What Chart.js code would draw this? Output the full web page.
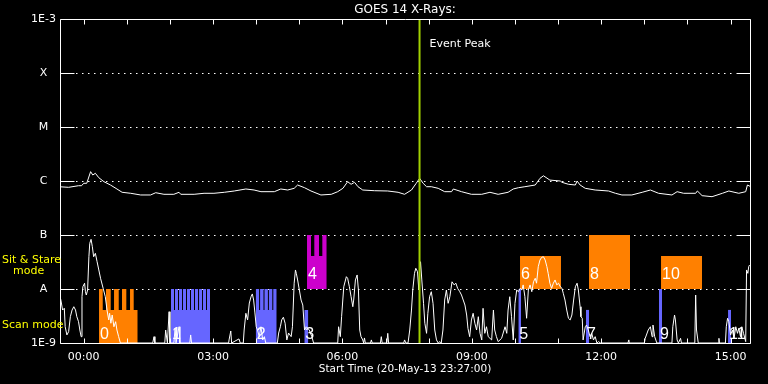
<!DOCTYPE html>
<html>
<head>
<meta charset="utf-8">
<script src="https://cdn.jsdelivr.net/npm/chart.js@4.4.1/dist/chart.umd.min.js"></script>
<style>
html,body{margin:0;padding:0;background:#000;overflow:hidden}
canvas{display:block}
</style>
</head>
<body>
<canvas id="c" width="768" height="384"></canvas>
<script>
// ---------------- DATA ----------------
// Time axis in hours relative to 21-May-13 00:00 (start 20-May-13 23:27)
const startHour = -0.55;
const endHour = 15.45;
const hourTicks = [0,1,2,3,4,5,6,7,8,9,10,11,12,13,14,15];
const hourLabels = [0,3,6,9,12,15];

// Flux axis (W/m^2), GOES class labels
const yTickValues = [1e-9,1e-8,1e-7,1e-6,1e-5,1e-4,1e-3];
const yTickLabels = ['1E-9','A','B','C','M','X','1E-3'];

const eventPeakHour = 7.787;

// GOES 14 long channel (1-8 A)
const longTime = [
-0.58,-0.35,-0.12,-0.05,0.00,0.07,0.16,0.21,0.27,0.35,
0.47,0.62,0.77,0.89,1.09,1.32,1.55,1.67,1.86,2.09,
2.21,2.25,2.56,2.79,3.02,3.26,3.49,3.76,3.95,4.11,
4.42,4.57,4.73,4.88,4.96,5.12,5.27,5.50,5.74,5.89,
6.01,6.12,6.20,6.28,6.36,6.47,6.74,7.05,7.29,7.44,
7.60,7.71,7.79,7.87,7.95,8.06,8.22,8.37,8.53,8.57,
8.76,8.99,9.23,9.42,9.61,9.84,9.96,10.08,10.23,10.47,
10.58,10.66,10.81,11.05,11.09,11.24,11.40,11.44,11.51,11.63,
11.86,12.17,12.33,12.48,12.71,12.95,13.14,13.33,13.64,13.76,
13.91,14.19,14.23,14.34,14.57,14.81,14.96,15.19,15.35,15.39,
15.47];
const longFlux = [
7.84e-7,7.64e-7,8.18e-7,8.18e-7,9.07e-7,9.07e-7,1.49e-6,1.29e-6,1.39e-6,1.15e-6,
9.7e-7,8.43e-7,7.11e-7,6.18e-7,5.92e-7,5.51e-7,5.51e-7,6.07e-7,5.67e-7,5.67e-7,
6.18e-7,5.67e-7,5.67e-7,5.92e-7,5.92e-7,6.18e-7,6.53e-7,7.11e-7,6.81e-7,6.34e-7,
6.34e-7,7.11e-7,6.81e-7,7.32e-7,8.43e-7,7.51e-7,6.53e-7,5.51e-7,5.67e-7,6.34e-7,
7.32e-7,9.7e-7,8.69e-7,9.46e-7,7.84e-7,6.81e-7,6.61e-7,6.53e-7,6.18e-7,5.67e-7,
6.81e-7,9.07e-7,1.12e-6,9.07e-7,7.84e-7,7.84e-7,7.32e-7,6.34e-7,6.34e-7,7.11e-7,
6.34e-7,5.67e-7,5.67e-7,6.18e-7,5.67e-7,6.18e-7,7.11e-7,7.51e-7,7.84e-7,8.43e-7,
1.12e-6,1.25e-6,1.04e-6,1.0e-6,9.46e-7,8.69e-7,8.43e-7,1.0e-6,8.43e-7,7.32e-7,
6.81e-7,6.53e-7,5.92e-7,5.51e-7,5.51e-7,6.18e-7,6.81e-7,5.92e-7,5.51e-7,6.34e-7,
5.92e-7,5.92e-7,6.53e-7,5.35e-7,5.12e-7,5.92e-7,6.53e-7,5.92e-7,6.34e-7,8.43e-7,
7.84e-7];

// GOES 14 short channel (0.5-4 A)
const shortTime = [
-0.58,-0.56,-0.53,-0.49,-0.45,-0.43,-0.39,-0.35,-0.31,-0.27,
-0.23,-0.19,-0.16,-0.12,-0.09,-0.06,-0.04,-0.02,0.02,0.04,
0.06,0.09,0.12,0.14,0.17,0.20,0.23,0.27,0.31,0.35,
0.39,0.45,0.50,0.54,0.58,0.60,0.63,0.66,0.70,0.74,
0.77,0.81,0.85,1.60,1.63,1.65,1.88,1.90,1.94,1.98,
2.00,2.09,2.12,2.14,2.21,2.23,2.46,2.48,2.50,3.36,
3.37,3.41,3.43,3.60,3.63,3.70,3.72,3.76,3.80,3.84,
3.88,3.91,3.94,3.97,4.00,4.03,4.07,4.11,4.15,4.19,
4.22,4.49,4.52,4.56,4.59,4.63,4.67,4.71,4.75,4.81,
4.84,4.88,4.91,4.93,4.96,5.00,5.04,5.08,5.12,5.16,
5.23,5.29,5.33,5.89,5.91,5.95,5.98,6.03,6.09,6.12,
6.16,6.20,6.24,6.26,6.30,6.34,6.37,6.40,6.43,6.47,
6.49,6.51,6.53,6.65,6.67,6.69,6.88,6.90,6.92,7.03,
7.05,7.07,7.42,7.44,7.47,7.52,7.56,7.60,7.63,7.67,
7.70,7.74,7.77,7.79,7.81,7.84,7.88,7.91,7.95,7.98,
8.02,8.06,8.10,8.14,8.18,8.22,8.26,8.29,8.33,8.37,
8.41,8.45,8.49,8.54,8.59,8.63,8.67,8.72,8.76,8.80,
8.84,8.88,8.91,8.95,8.99,9.03,9.07,9.11,9.15,9.19,
9.23,9.26,9.30,9.34,9.38,9.46,9.50,9.53,9.57,9.61,
9.69,9.77,9.81,9.84,9.88,9.92,9.96,10.00,10.04,10.08,
10.12,10.16,10.19,10.23,10.27,10.31,10.35,10.39,10.43,10.47,
10.50,10.54,10.58,10.62,10.66,10.70,10.74,10.77,10.81,10.85,
10.89,10.93,10.97,11.01,11.05,11.09,11.12,11.16,11.20,11.24,
11.28,11.32,11.36,11.40,11.44,11.47,11.51,11.53,11.56,11.58,
11.63,11.66,11.70,11.74,11.78,11.82,11.86,11.90,11.94,11.98,
12.62,12.64,12.65,13.00,13.02,13.09,13.14,13.18,13.20,13.24,
13.29,13.64,13.66,13.70,13.72,13.76,13.79,13.84,13.86,14.17,
14.19,14.21,14.25,14.71,14.73,14.74,14.88,14.90,14.93,14.96,
15.00,15.04,15.08,15.12,15.16,15.19,15.23,15.26,15.30,15.35,
15.37,15.40,15.42,15.44];
const shortFlux = [
8.91e-9,7.74e-9,6.25e-9,4.08e-9,4.4e-9,2.0e-9,1.41e-9,1.62e-9,3.07e-9,4.08e-9,
4.7e-9,4.08e-9,3.07e-9,2.48e-9,1.74e-9,1.31e-9,7.2e-9,1.1e-8,1.28e-8,8.91e-9,
7.74e-9,9.58e-9,3.96e-8,7.02e-8,8.32e-8,6.07e-8,3.96e-8,4.58e-8,3.2e-8,2.25e-8,
1.58e-8,1.03e-8,7.2e-9,4.08e-9,2.67e-9,3.55e-9,2.32e-9,3.3e-9,2.0e-9,2.48e-9,
1.74e-9,1.31e-9,1e-9,1e-9,1.31e-9,1e-9,1e-9,1.74e-9,1e-9,3.8e-9,
1e-9,1e-9,1.9e-9,1e-9,2.0e-9,1e-9,1e-9,1.41e-9,1e-9,1e-9,
1.14e-9,1.67e-9,1e-9,1.19e-9,1e-9,1e-9,1.74e-9,3.55e-9,2.67e-9,5.5e-9,
7.2e-9,8.1e-9,6.25e-9,3.6e-9,2.0e-9,1.74e-9,1.31e-9,2.0e-9,1.14e-9,1.31e-9,
1e-9,1e-9,1.53e-9,2.0e-9,2.67e-9,3.0e-9,2.32e-9,1.14e-9,1.53e-9,1.31e-9,
2.0e-9,1.28e-8,2.25e-8,1.95e-8,1.47e-8,9.58e-9,6.25e-9,5.05e-9,1.74e-9,2.0e-9,
1.74e-9,1.31e-9,1e-9,1e-9,2.0e-9,1.31e-9,3.07e-9,1.1e-8,1.69e-8,1.58e-8,
1.1e-8,7.2e-9,4.7e-9,6.25e-9,1.47e-8,1.82e-8,9.58e-9,1.74e-9,1.31e-9,1.14e-9,
1e-9,1.24e-9,1e-9,1e-9,1.14e-9,1e-9,1e-9,1.31e-9,1e-9,1e-9,
1.51e-9,1e-9,1e-9,1.14e-9,1e-9,1e-9,1.74e-9,4.08e-9,9.58e-9,1.95e-8,
2.42e-8,2.09e-8,9.58e-9,2.25e-8,3.2e-8,1.47e-8,5.43e-9,2.32e-9,1.51e-9,3.55e-9,
7.2e-9,8.91e-9,5.43e-9,1.74e-9,1.14e-9,1e-9,1.06e-9,1e-9,1.74e-9,6.25e-9,
9.58e-9,5.43e-9,7.2e-9,1.36e-8,1.19e-8,1.28e-8,1.03e-8,8.91e-9,7.74e-9,6.25e-9,
5.05e-9,3.3e-9,1.87e-9,1.31e-9,2.67e-9,3.55e-9,2.32e-9,1.74e-9,3.07e-9,1.51e-9,
1.14e-9,4.39e-9,1.51e-9,2.0e-9,1.31e-9,1.14e-9,4.08e-9,1.74e-9,1.31e-9,1.06e-9,
1.22e-9,2.0e-9,1.51e-9,4.08e-9,7.2e-9,3.07e-9,1.14e-9,5.43e-9,9.58e-9,8.91e-9,
1.03e-8,9.58e-9,1.19e-8,7.2e-9,2.87e-9,9.58e-9,1.19e-8,8.91e-9,1.36e-8,1.58e-8,
1.28e-8,2.59e-8,3.44e-8,3.86e-8,3.96e-8,3.44e-8,2.59e-8,1.95e-8,1.28e-8,1.03e-8,
1.28e-8,1.47e-8,1.19e-8,1.28e-8,1.1e-8,1.03e-8,8.32e-9,6.25e-9,4.08e-9,2.87e-9,
2.67e-9,3.3e-9,6.25e-9,1.1e-8,1.28e-8,9.58e-9,4.7e-9,3.07e-9,2.87e-9,1.14e-9,
2.0e-9,2.15e-9,1.74e-9,1.31e-9,1.51e-9,1.14e-9,1.31e-9,1e-9,1.06e-9,1e-9,
1e-9,1.14e-9,1e-9,1e-9,1.22e-9,1.74e-9,2.0e-9,1.31e-9,2.15e-9,1.31e-9,
1e-9,1e-9,2.0e-9,3.3e-9,2.67e-9,1.14e-9,1e-9,1.22e-9,1e-9,1e-9,
7.74e-9,1.74e-9,1e-9,1e-9,1.22e-9,1e-9,1e-9,2.0e-9,2.87e-9,2.48e-9,
1.41e-9,1.74e-9,1.22e-9,2.0e-9,1.51e-9,1.87e-9,1.31e-9,2.0e-9,1.51e-9,1.06e-9,
2.25e-8,1.95e-8,2.59e-8,2.78e-8];

// Observation blocks: step start times (hours) and step heights (flux levels)
const obsLabels = ['0','1','2','3','4','5','6','7','8','9','10','11'];
const obsMode   = ['scan','scan','scan','scan','sit','scan','sit','scan','sit','scan','sit','scan'];
const obsTimes = [
  [0.355,0.441,0.517,0.626,0.703,0.812,0.888,0.988,1.074,1.159,1.252],
  [2.024,2.094,2.117,2.187,2.210,2.280,2.302,2.372,2.395,2.465,2.488,2.558,2.581,2.651,2.674,2.744,2.766,2.836,2.859,2.929],
  [3.988,4.067,4.090,4.169,4.192,4.271,4.294,4.373,4.396,4.475],
  [5.115,5.208],
  [5.178,5.271,5.347,5.456,5.533,5.635],
  [10.078,10.141],
  [10.117,11.067],
  [11.647,11.717],
  [11.717,12.668],
  [13.340,13.410],
  [13.387,14.338],
  [14.941,15.011]
];
const obsLevels = [
  [1e-8,4.1e-9,1e-8,4.1e-9,1e-8,4.1e-9,1e-8,4.1e-9,1e-8,4.1e-9,4.1e-9],
  [1e-8,4.1e-9,1e-8,4.1e-9,1e-8,4.1e-9,1e-8,4.1e-9,1e-8,4.1e-9,1e-8,4.1e-9,1e-8,4.1e-9,1e-8,4.1e-9,1e-8,4.1e-9,1e-8,1e-8],
  [1e-8,4.1e-9,1e-8,4.1e-9,1e-8,4.1e-9,1e-8,4.1e-9,1e-8,1e-8],
  [4.1e-9,4.1e-9],
  [1e-7,4.1e-8,1e-7,4.1e-8,1e-7,1e-7],
  [1e-8,1e-8],
  [4.1e-8,4.1e-8],
  [4.1e-9,4.1e-9],
  [1e-7,1e-7],
  [1e-8,1e-8],
  [4.1e-8,4.1e-8],
  [4.1e-9,4.1e-9]
];

// ---------------- STYLE ----------------
const FONT = 'DejaVu Sans';
const obsColorByLabel = {'0':'#ff8000','4':'#cc00cc','6':'#ff8000','8':'#ff8000','10':'#ff8000'};
const scanColor = '#6666ff';
const eventColor = '#a0d000';

const pts = (ts, vs) => ts.map((t, i) => ({x: t, y: vs[i]}));

const datasets = [
  {label:'Event Peak', data: [{x:eventPeakHour,y:yTickValues[0]},{x:eventPeakHour,y:yTickValues[yTickValues.length-1]}],
   borderColor: eventColor, borderWidth: 2, pointRadius: 0, order: 0},
  {label:'GOES long', data: pts(longTime, longFlux), borderColor:'#ffffff', borderWidth:1, pointRadius:0, tension:0, order:1},
  {label:'GOES short', data: pts(shortTime, shortFlux), borderColor:'#ffffff', borderWidth:1, pointRadius:0, tension:0, order:1}
];
obsTimes.forEach((ts, i) => {
  const col = obsColorByLabel[obsLabels[i]] || scanColor;
  datasets.push({
    label: 'obs ' + obsLabels[i],
    data: pts(ts, obsLevels[i]),
    stepped: 'before',
    borderColor: 'rgba(0,0,0,0)',
    borderWidth: 0,
    backgroundColor: col,
    fill: {value: obsMode[i] === 'scan' ? 1e-9 : 1e-8},
    pointRadius: 0,
    order: 2
  });
});

const overlay = {
  id: 'overlay',
  beforeDraw(chart) {
    const c = chart.ctx;
    c.save(); c.fillStyle = '#000'; c.fillRect(0, 0, chart.width, chart.height); c.restore();
  },
  beforeDatasetsDraw(chart) {
    const {ctx, chartArea: a, scales: {y}} = chart;
    ctx.save();
    ctx.strokeStyle = '#ffffff'; ctx.lineWidth = 1; ctx.setLineDash([1.5, 4.5]);
    yTickValues.slice(1, -1).forEach(v => {
      const py = Math.round(y.getPixelForValue(v)) + 0.5;
      ctx.beginPath(); ctx.moveTo(a.left + 16, py); ctx.lineTo(a.right - 14, py); ctx.stroke();
    });
    ctx.restore();
  },
  afterDatasetsDraw(chart) {
    const {ctx, chartArea: a, scales: {x, y}} = chart;
    const L = Math.round(a.left) + 0.5, R = Math.round(a.right) + 0.5;
    const T = Math.round(a.top) + 0.5, B = Math.round(a.bottom) + 0.5;
    ctx.save();
    ctx.strokeStyle = '#ffffff'; ctx.lineWidth = 1; ctx.setLineDash([]);
    ctx.beginPath();
    ctx.moveTo(L, T); ctx.lineTo(R, T); ctx.lineTo(R, B); ctx.lineTo(L, B); ctx.closePath();
    yTickValues.forEach(v => {
      const py = Math.round(y.getPixelForValue(v)) + 0.5;
      ctx.moveTo(L, py); ctx.lineTo(L + 14, py);
      ctx.moveTo(R - 14, py); ctx.lineTo(R, py);
    });
    hourTicks.forEach(h => {
      const px = Math.round(x.getPixelForValue(h)) + 0.5;
      ctx.moveTo(px, T); ctx.lineTo(px, T + 5);
      ctx.moveTo(px, B); ctx.lineTo(px, B - 5);
    });
    ctx.stroke();

    // block numbers
    ctx.fillStyle = '#ffffff';
    ctx.font = '16px "Liberation Sans"';
    ctx.textAlign = 'left'; ctx.textBaseline = 'alphabetic';
    obsLabels.forEach((lab, i) => {
      const px = x.getPixelForValue(obsTimes[i][0]) + 1;
      const py = obsMode[i] === 'scan' ? y.getPixelForValue(1e-9) - 4 : y.getPixelForValue(1e-8) - 10.5;
      ctx.fillText(lab, px, py);
    });

    // event peak
    ctx.font = '11px "' + FONT + '"';
    ctx.fillText('Event Peak', x.getPixelForValue(eventPeakHour) + 10, a.top + 28);

    // mode labels
    ctx.fillStyle = '#ffff00';
    ctx.fillText('Sit & Stare', 2, y.getPixelForValue(1e-8) - 26);
    ctx.fillText('mode', 13, y.getPixelForValue(1e-8) - 15);
    ctx.fillText('Scan mode', 2, y.getPixelForValue(1e-9) - 15);
    ctx.restore();
  }
};

new Chart(document.getElementById('c'), {
  type: 'line',
  data: {datasets},
  options: {
    responsive: false,
    devicePixelRatio: 1,
    animation: false,
    events: [],
    layout: {padding: {left: 0, right: 18, top: 0, bottom: 0}},
    scales: {
      x: {
        type: 'linear', min: startHour, max: endHour,
        grid: {display: false}, border: {display: false},
        afterFit: s => { s.height = 41; },
        afterBuildTicks: s => { s.ticks = hourLabels.map(v => ({value: v})); },
        ticks: {color: '#ffffff', font: {family: FONT, size: 11}, padding: 0, autoSkip: false, maxRotation: 0,
                callback: v => String(v).padStart(2, '0') + ':00'},
        title: {display: true, text: 'Start Time (20-May-13 23:27:00)', color: '#ffffff',
                font: {family: FONT, size: 10.5}, padding: {top: 0, bottom: 8}}
      },
      y: {
        type: 'logarithmic', min: 1e-9, max: 1e-3,
        grid: {display: false}, border: {display: false},
        afterFit: s => { s.width = 60; },
        afterBuildTicks: s => { s.ticks = yTickValues.map(v => ({value: v})); },
        ticks: {color: '#ffffff', font: {family: FONT, size: 11}, padding: -4, crossAlign: 'center', autoSkip: false,
                callback: (v, i) => yTickLabels[i]}
      }
    },
    plugins: {
      legend: {display: false},
      tooltip: {enabled: false},
      title: {display: true, text: 'GOES 14 X-Rays:', color: '#ffffff', fullSize: false,
              font: {family: FONT, size: 12, weight: 'normal'}, padding: {top: 2.3, bottom: 2.3}}
    }
  },
  plugins: [overlay]
});
</script>
</body>
</html>
